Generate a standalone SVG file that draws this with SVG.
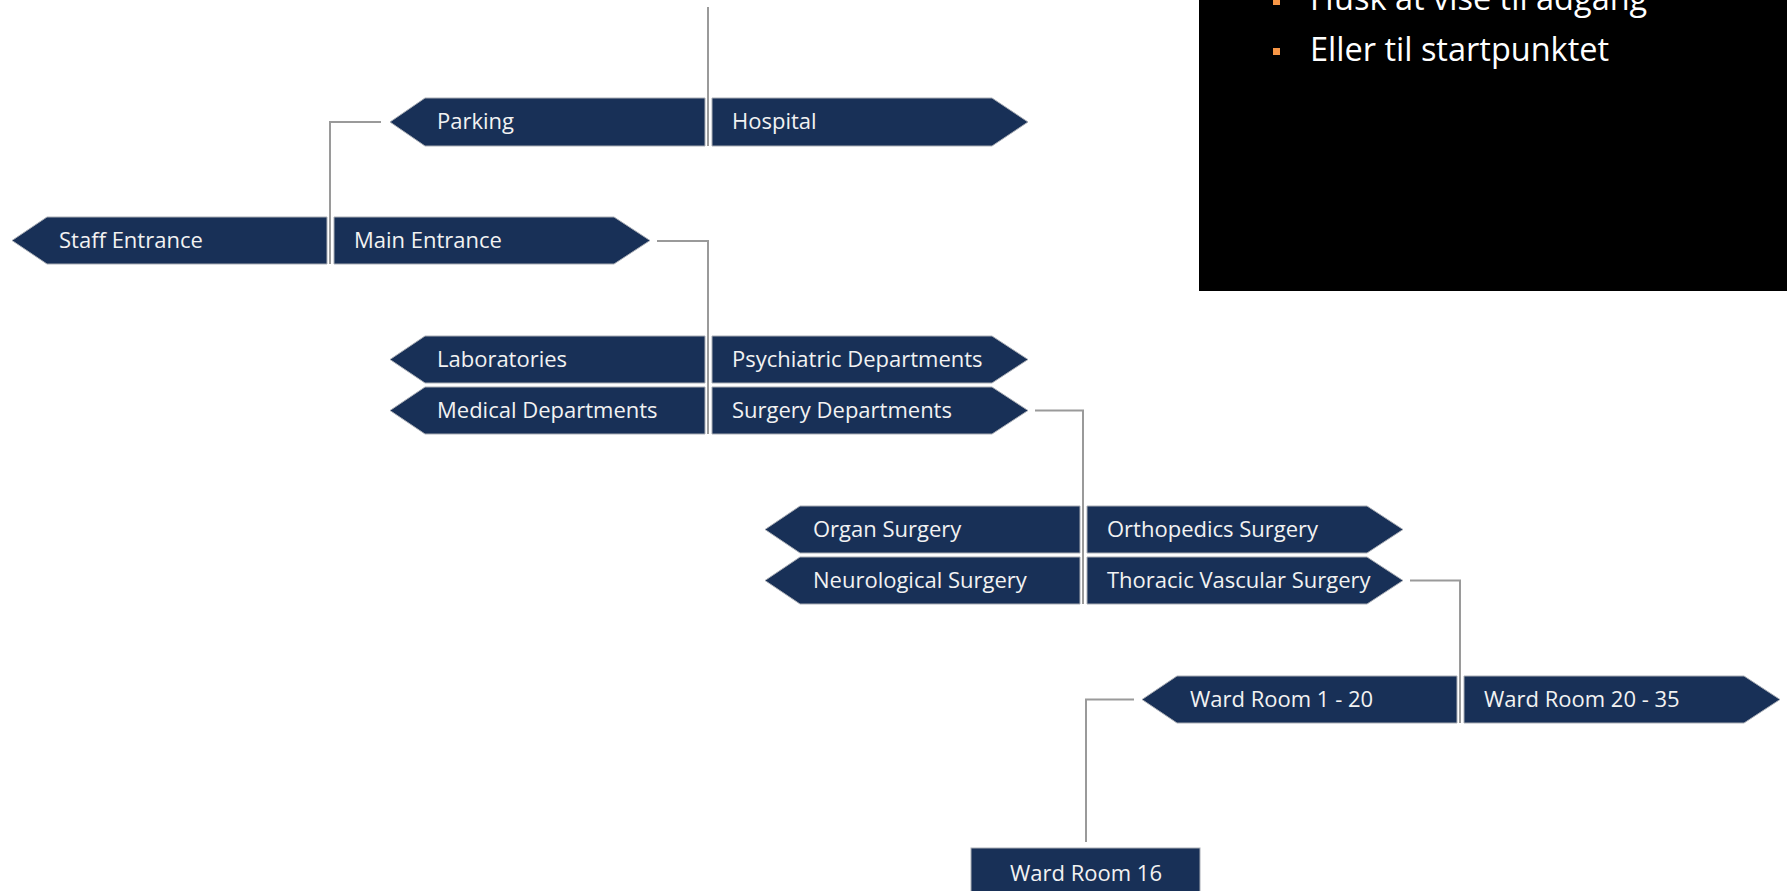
<svg xmlns="http://www.w3.org/2000/svg" width="1787" height="891" viewBox="0 0 1787 891">
<style>
.box{fill:#183057;stroke:#a9adb5;stroke-width:1}
.lbl{font-family:"Open Sans","Noto Sans",sans-serif;font-size:22px;fill:#f2f2f2}
.conn{fill:none;stroke:#9a9a9a;stroke-width:2}
.note{font-family:"Open Sans","Noto Sans",sans-serif;font-size:32.5px;fill:#ffffff}
.bul{fill:#f79646}
</style>
<rect x="0" y="0" width="1787" height="891" fill="#ffffff"/>
<g id="note">
<rect x="1199" y="0" width="588" height="291" fill="#000000"/>
<rect class="bul" x="1273" y="-2" width="7" height="7"/>
<text class="note" x="1310" y="10">Husk at vise til adgang</text>
<rect class="bul" x="1273" y="48" width="7" height="7"/>
<text class="note" x="1310" y="61">Eller til startpunktet</text>
</g>
<g id="connectors">
<path class="conn" d="M708 7 V146"/>
<path class="conn" d="M381 122 H330 V264"/>
<path class="conn" d="M657 241 H708 V434"/>
<path class="conn" d="M1035 410.5 H1083 V604"/>
<path class="conn" d="M1410 580.5 H1460 V723"/>
<path class="conn" d="M1134 699.5 H1086 V842"/>
</g>
<g id="parking"><polygon class="box" points="390,122 425,98 705,98 705,146 425,146"/><text class="lbl" x="437" y="129">Parking</text></g>
<g id="hospital"><polygon class="box" points="712,98 992,98 1028,122 992,146 712,146"/><text class="lbl" x="732" y="129">Hospital</text></g>
<g id="staff-entrance"><polygon class="box" points="12,240.5 47,217 327,217 327,264 47,264"/><text class="lbl" x="59" y="248">Staff Entrance</text></g>
<g id="main-entrance"><polygon class="box" points="334,217 614,217 650,240.5 614,264 334,264"/><text class="lbl" x="354" y="248">Main Entrance</text></g>
<g id="laboratories"><polygon class="box" points="390,359.5 425,336 705,336 705,383 425,383"/><text class="lbl" x="437" y="367">Laboratories</text></g>
<g id="psychiatric"><polygon class="box" points="712,336 992,336 1028,359.5 992,383 712,383"/><text class="lbl" x="732" y="367">Psychiatric Departments</text></g>
<g id="medical"><polygon class="box" points="390,410.5 425,387 705,387 705,434 425,434"/><text class="lbl" x="437" y="418">Medical Departments</text></g>
<g id="surgery"><polygon class="box" points="712,387 992,387 1028,410.5 992,434 712,434"/><text class="lbl" x="732" y="418">Surgery Departments</text></g>
<g id="organ"><polygon class="box" points="765,529.5 800,506 1080,506 1080,553 800,553"/><text class="lbl" x="813" y="537">Organ Surgery</text></g>
<g id="orthopedics"><polygon class="box" points="1087,506 1367,506 1403,529.5 1367,553 1087,553"/><text class="lbl" x="1107" y="537">Orthopedics Surgery</text></g>
<g id="neurological"><polygon class="box" points="765,580.5 800,557 1080,557 1080,604 800,604"/><text class="lbl" x="813" y="588">Neurological Surgery</text></g>
<g id="thoracic"><polygon class="box" points="1087,557 1367,557 1403,580.5 1367,604 1087,604"/><text class="lbl" x="1107" y="588">Thoracic Vascular Surgery</text></g>
<g id="ward-1-20"><polygon class="box" points="1142,699.5 1177,676 1457,676 1457,723 1177,723"/><text class="lbl" x="1190" y="707">Ward Room 1 - 20</text></g>
<g id="ward-20-35"><polygon class="box" points="1464,676 1744,676 1780,699.5 1744,723 1464,723"/><text class="lbl" x="1484" y="707">Ward Room 20 - 35</text></g>
<g id="ward-16"><rect class="box" x="971" y="848" width="229" height="60"/><text class="lbl" x="1010" y="881">Ward Room 16</text></g>
</svg>
